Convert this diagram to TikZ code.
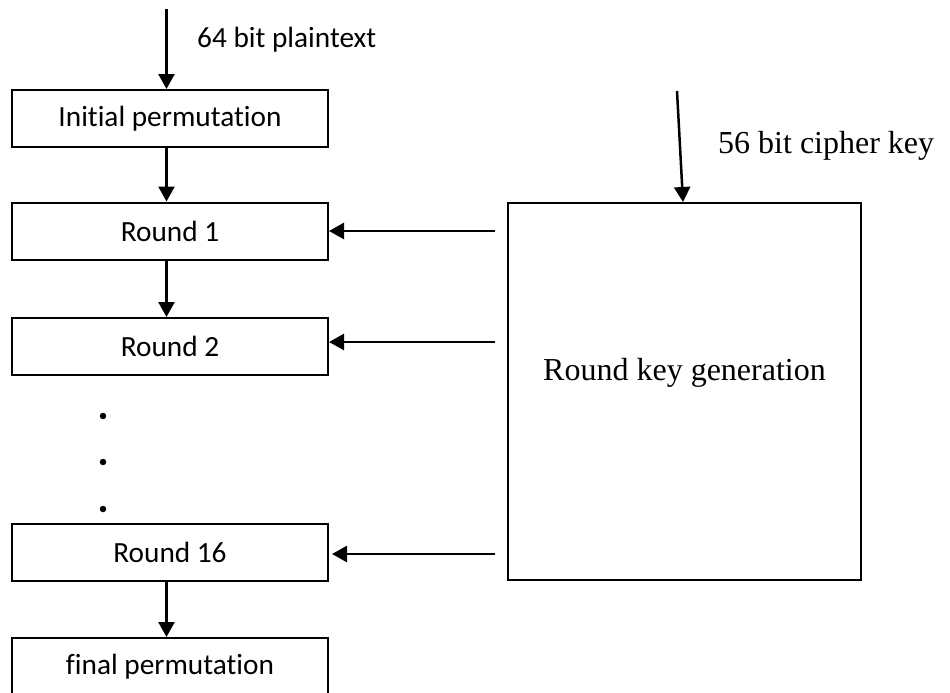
\documentclass[tikz,border=0pt]{standalone}
\usepackage{fontspec}
\setmainfont{Carlito}[Ligatures=NoCommon]
\newfontfamily\keyfont{Liberation Serif}
\usetikzlibrary{arrows.meta}

\begin{document}
\begin{tikzpicture}[x=1pt,y=-1pt,
	stage/.style={draw,line width=2pt,minimum width=316pt,minimum height=57pt,inner sep=0pt,font=\fontsize{29.3}{35}\selectfont},
	flow/.style={line width=2.5pt,-{Triangle[width=16pt,length=15pt]}}]

\useasboundingbox (0,0) rectangle (950,693);

\node[stage] (ip)  at (170,118.5) {Initial permutation};
\node[stage] (r1)  at (170,231)   {Round 1};
\node[stage] (r2)  at (170,346.5) {Round 2};
\node[stage] (r16) at (170,552.5) {Round 16};
\node[stage] (fp)  at (170,666.5) {final permutation};

\node[draw,line width=2pt,minimum width=353pt,minimum height=377pt,inner sep=0pt] (kg) at (684.5,391.5) {};
\node[font=\keyfont\fontsize{32}{38}\selectfont,anchor=base,inner sep=0pt] (kglabel) at ([yshift=11.5pt]kg.center) {Round key generation};

\coordinate (plainin) at (166.5,9);
\coordinate (keyin)   at (677,91);

\draw[flow] (plainin) -- ([xshift=-3.5pt]ip.north);
\draw[flow] ([xshift=-3.5pt]ip.south) -- ([xshift=-3.5pt]r1.north);
\draw[flow] ([xshift=-3.5pt]r1.south) -- ([xshift=-3.5pt]r2.north);
\draw[flow] ([xshift=-3.5pt]r16.south) -- ([xshift=-3.5pt]fp.north);
\draw[flow] (keyin) -- ([xshift=-1.5pt]kg.north);

\draw[flow] ([xshift=-12pt]kg.west |- r1.east) -- (r1.east);
\draw[flow] ([xshift=-12pt,yshift=4.5pt]kg.west |- r2.east) -- ([yshift=4.5pt]r2.east);
\draw[flow] ([xshift=-12pt,yshift=-1.5pt]kg.west |- r16.east) -- ([xshift=3pt,yshift=-1.5pt]r16.east);

\filldraw (103,416) circle (3pt)
	  (103,462) circle (3pt)
	  (103,509) circle (3pt);

\node[anchor=base west,inner sep=0pt,font=\fontsize{29.3}{35}\selectfont] (plainlabel) at (197,47.5) {64 bit plaintext};
\node[anchor=base west,inner sep=0pt,font=\keyfont\fontsize{32}{38}\selectfont] (keylabel) at (718,153) {56 bit cipher key};

\end{tikzpicture}
\end{document}
